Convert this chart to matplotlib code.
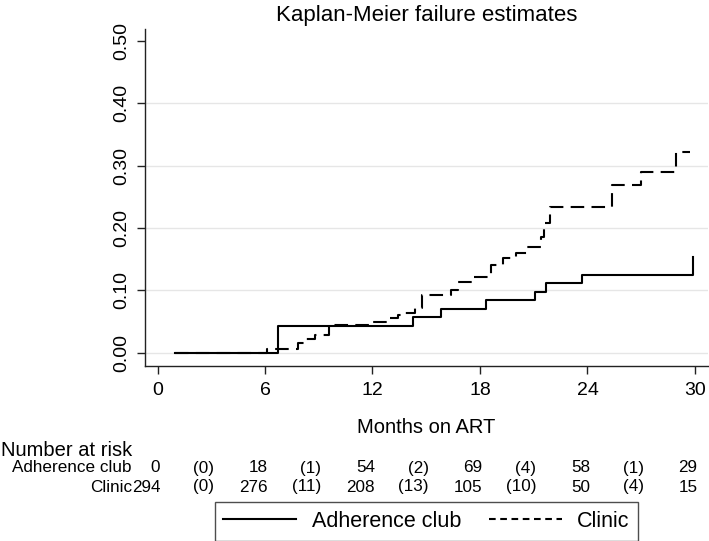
import matplotlib
matplotlib.use("Agg")
import matplotlib.pyplot as plt
import matplotlib.transforms as mtransforms
from matplotlib.lines import Line2D

plt.rcParams['font.family'] = ['Liberation Sans', 'DejaVu Sans']

# ---- data ----
title = "Kaplan-Meier failure estimates"
xlabel = "Months on ART"
series_names = ["Adherence club", "Clinic"]

club_t = [1.0, 6.7, 14.27, 15.8, 18.35, 21.1, 21.7, 23.7, 29.9]
club_f = [0.0, 0.043, 0.057, 0.070, 0.085, 0.097, 0.112, 0.125, 0.153]

clinic_t = [1.0, 6.1, 7.85, 8.25, 8.8, 9.55, 12.05, 12.9, 13.4, 13.7, 14.4, 14.75,
            16.4, 16.8, 17.65, 18.6, 19.3, 20.0, 20.6, 21.4, 21.55, 21.9,
            25.37, 27.0, 28.97, 29.75]
clinic_f = [0.0, 0.006, 0.016, 0.022, 0.029, 0.044, 0.049, 0.055, 0.060, 0.064, 0.071, 0.093,
            0.101, 0.114, 0.122, 0.141, 0.151, 0.160, 0.170, 0.185, 0.208, 0.233,
            0.268, 0.289, 0.321, 0.321]

x_ticks = [0, 6, 12, 18, 24, 30]
y_ticks = [0.0, 0.1, 0.2, 0.3, 0.4, 0.5]
grid_levels = [0.0, 0.1, 0.2, 0.3, 0.4]

risk_times = [0, 3, 6, 9, 12, 15, 18, 21, 24, 27, 30]
risk_club = ["0", "(0)", "18", "(1)", "54", "(2)", "69", "(4)", "58", "(1)", "29"]
risk_clinic = ["294", "(0)", "276", "(11)", "208", "(13)", "105", "(10)", "50", "(4)", "15"]

# ---- figure ----
W, H = 709, 541
fig = plt.figure(figsize=(W / 100, H / 100), dpi=100)
fig.patch.set_facecolor("white")

def fx(px):
    return px / W

def fy(py):
    return 1 - py / H

ax_l, ax_r, ax_t, ax_b = 145, 708, 29, 366
ax = fig.add_axes([fx(ax_l), fy(ax_b), fx(ax_r - ax_l), (ax_b - ax_t) / H])
ax.set_xlim(-0.698, 30.73)
ax.set_ylim(-0.0213, 0.5188)

for g in grid_levels:
    ax.axhline(g, color="#e6e6e6", lw=1.0, zorder=0)

ax.step(club_t, club_f, where="post", color="black", lw=1.5, zorder=3,
        label=series_names[0])
ax.step(clinic_t, clinic_f, where="post", color="black", lw=1.5, zorder=2,
        linestyle=(0, (6.5, 3.5)), label=series_names[1])

for s in ["top", "right"]:
    ax.spines[s].set_visible(False)
for s in ["left", "bottom"]:
    ax.spines[s].set_color("#222222")
    ax.spines[s].set_linewidth(1.0)

ax.set_xticks(x_ticks)
ax.set_xticklabels([str(v) for v in x_ticks], fontsize=14)
ax.set_yticks(y_ticks)
ax.set_yticklabels([f"{v:.2f}" for v in y_ticks], fontsize=14, rotation=90,
                   va="center")
ax.tick_params(axis="both", direction="out", length=5.5, width=1.0, color="#222222")
ax.tick_params(axis="x", pad=6)
ax.tick_params(axis="y", pad=5)

ax_cx = (ax_l + ax_r) / 2
fig.text(fx(ax_cx), fy(21), title, ha="center", va="baseline", fontsize=16)
fig.text(fx(ax_cx), fy(433), xlabel, ha="center", va="baseline", fontsize=14.5)

# risk table
fig.text(fx(1), fy(450), "Number at risk", ha="left", va="center", fontsize=14.5)
blend = mtransforms.blended_transform_factory(ax.transData, fig.transFigure)
row_y = [fy(468), fy(487)]
for rowvals, ry, name in [(risk_club, row_y[0], series_names[0]),
                          (risk_clinic, row_y[1], series_names[1])]:
    fig.text(fx(132), ry, name, ha="right", va="center", fontsize=12.3)
    for t, v in zip(risk_times, rowvals):
        ax.text(t + 0.15, ry, v, transform=blend, ha="right", va="center",
                fontsize=12.3, clip_on=False)

# legend
handles = [Line2D([], [], color="black", lw=1.5),
           Line2D([], [], color="black", lw=1.5, linestyle=(0, (3.2, 2.2)))]
leg = fig.legend(handles, series_names, loc="center",
                 bbox_to_anchor=(fx(426.5), fy(521.5)), ncol=2, fontsize=15.5,
                 frameon=True, fancybox=False, edgecolor="#222222",
                 handlelength=3.4, handletextpad=0.7, columnspacing=1.3,
                 borderpad=0.4, borderaxespad=0)
leg.get_frame().set_linewidth(1.0)

fig.savefig("out.png", dpi=100, facecolor="white")
